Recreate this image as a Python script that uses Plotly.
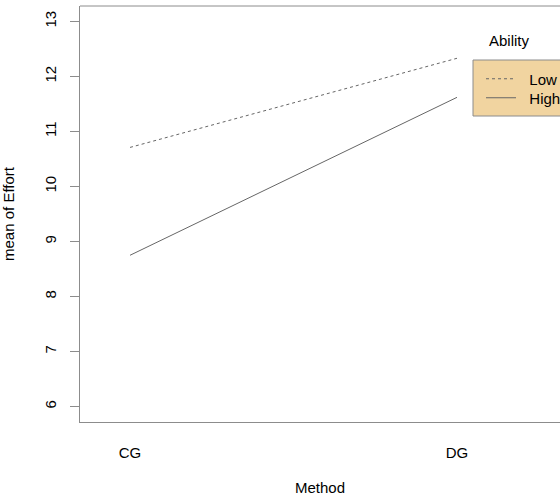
import plotly.graph_objects as go

methods = ["CG", "DG"]
method_pos = [1, 2]
low_effort = [10.71, 12.33]
high_effort = [8.75, 11.62]
y_ticks = [6, 7, 8, 9, 10, 11, 12, 13]

font = "Liberation Sans, Arial, Helvetica, sans-serif"
line_col = "#666666"
box_col = "#8c8c8c"
fs = 15
nb = "\u00a0\u00a0"

fig = go.Figure()
fig.add_trace(go.Scatter(x=method_pos, y=low_effort, mode="lines", name=nb + "Low",
                         legend="legend",
                         line=dict(color=line_col, width=1, dash="3px,3px")))
fig.add_trace(go.Scatter(x=method_pos, y=high_effort, mode="lines", name=nb + "High",
                         legend="legend2",
                         line=dict(color=line_col, width=1)))

leg_common = dict(xanchor="left", yanchor="middle", bgcolor="rgba(0,0,0,0)",
                  borderwidth=0, font=dict(size=fs, family=font), itemwidth=30)

fig.update_layout(
    width=560, height=500,
    margin=dict(l=80, r=0, t=6, b=78, autoexpand=False),
    paper_bgcolor="white", plot_bgcolor="white",
    font=dict(family=font, size=fs, color="black"),
    showlegend=True,
    legend=dict(x=(481 - 80) / 480, y=1 - 73 / 416, **leg_common),
    legend2=dict(x=(481 - 80) / 480, y=1 - 92 / 416, **leg_common),
    xaxis=dict(range=[0.847, 2.315], tickvals=method_pos, ticktext=methods,
               showgrid=False, zeroline=False, showline=True, linecolor=box_col,
               linewidth=1, mirror=False, ticks="", ticklabelstandoff=17,
               tickfont=dict(size=fs, family=font),
               title=dict(text="Method", standoff=22, font=dict(size=fs, family=font))),
    yaxis=dict(range=[5.72, 13.28], tickvals=y_ticks, showgrid=False, zeroline=False,
               showline=True, linecolor=box_col, linewidth=1, ticks="outside",
               ticklen=9, tickcolor=box_col, tickangle=-90, ticklabelstandoff=8,
               tickfont=dict(size=fs, family=font),
               title=dict(text="mean of Effort", standoff=23, font=dict(size=fs, family=font))),
    annotations=[dict(text="Ability", xref="paper", yref="paper", x=(487 - 80) / 480,
                      y=1 - 34 / 416, xanchor="left", yanchor="middle",
                      showarrow=False, font=dict(size=fs, family=font))],
    shapes=[
        dict(type="line", xref="paper", yref="paper", x0=0, x1=1.05, y0=1, y1=1,
             line=dict(color=box_col, width=1)),
        dict(type="rect", xref="paper", yref="paper", x0=(473 - 80) / 480, x1=1.2,
             y0=1 - 110 / 416, y1=1 - 54 / 416, layer="below",
             fillcolor="#F1D4A0", line=dict(color=box_col, width=1)),
    ],
)

fig.write_html("out.html", config={"displayModeBar": False},
               post_script="document.body.style.margin='0';")
